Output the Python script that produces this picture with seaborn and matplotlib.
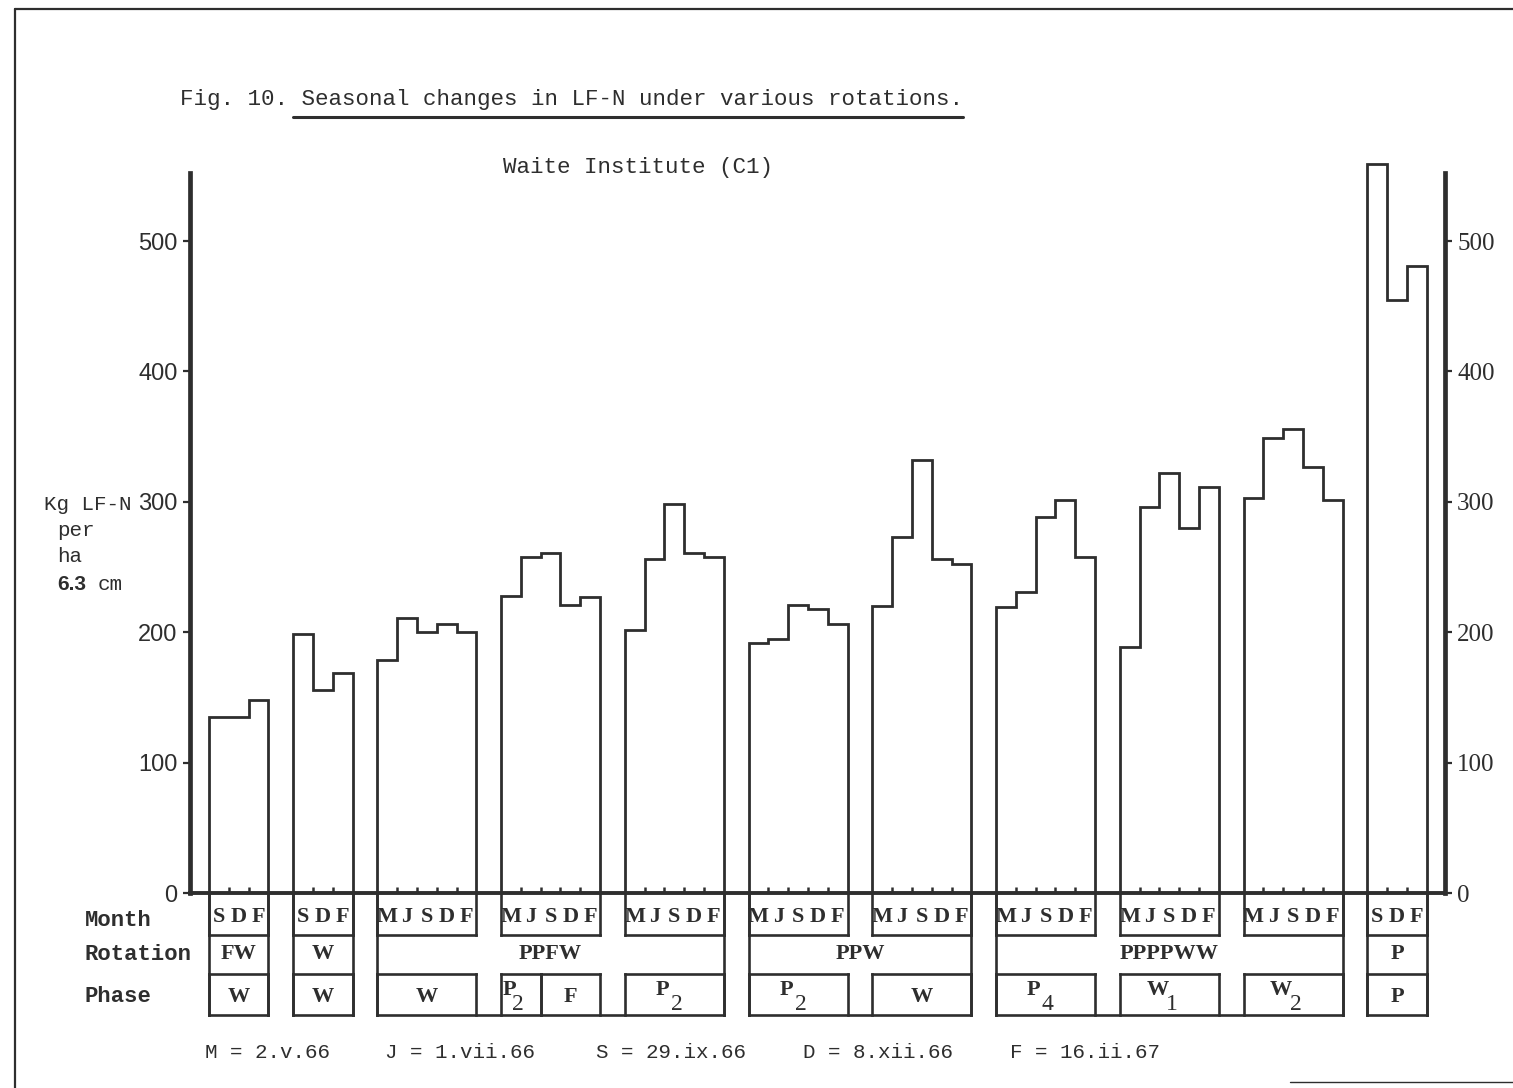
import numpy as np
import pandas as pd
import matplotlib
matplotlib.use("Agg")
import matplotlib.pyplot as plt
from matplotlib.lines import Line2D
import seaborn as sns

# ---------------------------------------------------------------------------
# Data: kg LF-N per ha (0-6.3 cm) at each sampling date, one list per plot
# ---------------------------------------------------------------------------
months_3 = ["S", "D", "F"]
months_5 = ["M", "J", "S", "D", "F"]

fw_w = [135, 135, 148]
w_w = [199, 156, 169]
ppfw_w = [179, 211, 200, 206, 200]
ppfw_p2f = [228, 258, 261, 221, 227]
ppfw_p2 = [202, 256, 298, 261, 258]
ppw_p2 = [192, 195, 221, 218, 206]
ppw_w = [220, 273, 332, 256, 252]
ppppww_p4 = [219, 231, 288, 301, 258]
ppppww_w1 = [189, 296, 322, 280, 311]
ppppww_w2 = [303, 349, 356, 327, 301]
p_p = [559, 455, 481]

plot_values = [fw_w, w_w, ppfw_w, ppfw_p2f, ppfw_p2, ppw_p2, ppw_w,
               ppppww_p4, ppppww_w1, ppppww_w2, p_p]
plot_months = [months_3, months_3, months_5, months_5, months_5, months_5,
               months_5, months_5, months_5, months_5, months_3]

# rotation name -> indices of the plots belonging to it
rotation_names = ["FW", "W", "PPFW", "PPW", "PPPPWW", "P"]
rotation_plots = [[0], [1], [2, 3, 4], [5, 6], [7, 8, 9], [10]]

# phase labels per plot: (letter, subscript, first month, last month + 1)
plot_phases = [
    [("W", "", 0, 3)],
    [("W", "", 0, 3)],
    [("W", "", 0, 5)],
    [("P", "2", 0, 2), ("F", "", 2, 5)],
    [("P", "2", 0, 5)],
    [("P", "2", 0, 5)],
    [("W", "", 0, 5)],
    [("P", "4", 0, 5)],
    [("W", "1", 0, 5)],
    [("W", "2", 0, 5)],
    [("P", "", 0, 3)],
]

date_keys = ["M = 2.v.66", "J = 1.vii.66", "S = 29.ix.66",
             "D = 8.xii.66", "F = 16.ii.67"]

y_ticks = [0, 100, 200, 300, 400, 500]

# ---------------------------------------------------------------------------
# Style
# ---------------------------------------------------------------------------
sns.set_theme(style="white")
INK = "#2e2e2e"
MONO = "Liberation Mono"
SERIF = "Liberation Serif"
SANS = "Liberation Sans"
plt.rcParams["font.family"] = [MONO, "DejaVu Sans"]
plt.rcParams["text.color"] = INK

FIG_W, FIG_H = 1513, 1088
fig = plt.figure(figsize=(FIG_W / 100, FIG_H / 100), dpi=100)
fig.patch.set_facecolor("white")


def fx(px):
    return px / FIG_W


def fy(py):
    return 1 - py / FIG_H


# plot area: x measured in month-slots, y in kg/ha
SLOT_PX = 19.8
KG_PX = 1.304
ZERO_PX = 893
X_MAX = 63.36
Y_MAX = 570
ax = fig.add_axes([fx(190), fy(ZERO_PX), X_MAX * SLOT_PX / FIG_W,
                   Y_MAX * KG_PX / FIG_H])
ax.set_xlim(0, X_MAX)
ax.set_ylim(0, Y_MAX)
ax.set_facecolor("none")


def ky(py):
    """vertical pixel position -> kg units (negative below the zero line)"""
    return (ZERO_PX - py) / KG_PX


# horizontal layout of the plots
GAP = 1.25
starts = []
cursor = 0.96
for vals in plot_values:
    starts.append(cursor)
    cursor += len(vals) + GAP

# stepped outline of every plot
rows = []
for gi, (x0, vals) in enumerate(zip(starts, plot_values)):
    rows.append((gi, x0, 0.0))
    for k, v in enumerate(vals):
        rows.append((gi, x0 + k, v))
        rows.append((gi, x0 + k + 1, v))
    rows.append((gi, x0 + len(vals), 0.0))
outline = pd.DataFrame(rows, columns=["plot", "slot", "kg"])
sns.lineplot(data=outline, x="slot", y="kg", units="plot", estimator=None,
             sort=False, color=INK, linewidth=2.0, ax=ax, legend=False)
for ln in ax.lines:
    ln.set_clip_on(False)
    ln.set_solid_joinstyle("miter")

# small date ticks on the zero line
for x0, vals in zip(starts, plot_values):
    xs = [x0 + k for k in range(1, len(vals))]
    ax.vlines(xs, 0, 4.5, color=INK, linewidth=1.8)

ax.set_xlabel("")
ax.set_ylabel("")
ax.set_xticks([])

# axes
ax.spines["top"].set_visible(False)
for side in ["left", "right"]:
    ax.spines[side].set_visible(True)
    ax.spines[side].set_color(INK)
    ax.spines[side].set_linewidth(3.4)
    ax.spines[side].set_bounds(0, 552)
ax.spines["bottom"].set_color(INK)
ax.spines["bottom"].set_linewidth(2.8)

ax.set_yticks(y_ticks)
ax.set_yticklabels([str(t) for t in y_ticks])
ax.tick_params(axis="y", which="major", direction="out", length=5, width=1.6,
               color=INK, left=True, right=True, labelleft=True,
               labelright=True, pad=4)
for t in ax.yaxis.get_major_ticks():
    t.label1.set_fontfamily(SANS)
    t.label1.set_fontsize(17)
    t.label1.set_color(INK)
    t.label2.set_fontfamily(SERIF)
    t.label2.set_fontsize(18)
    t.label2.set_color(INK)

# ---------------------------------------------------------------------------
# Table under the plots: Month / Rotation / Phase
# ---------------------------------------------------------------------------
Y_MONTH_BOT = ky(935)
Y_ROT_BOT = ky(974)
Y_BOT = ky(1015)
Y_MONTH_TXT = ky(917)
Y_ROT_TXT = ky(954)
Y_PH_TXT = ky(990)
Y_SUB_TXT = ky(1004)
TLW = 1.9


def seg(xa, ya, xb, yb):
    ax.add_line(Line2D([xa, xb], [ya, yb], color=INK, linewidth=TLW,
                       clip_on=False, solid_capstyle="projecting"))


cell_kw = dict(family=SERIF, fontweight="bold", fontsize=16, color=INK,
               ha="center", va="center", clip_on=False)

for name, members in zip(rotation_names, rotation_plots):
    left = starts[members[0]]
    right = starts[members[-1]] + len(plot_values[members[-1]])
    # outer frame sides and bottom
    seg(left, 0, left, Y_BOT)
    seg(right, 0, right, Y_BOT)
    seg(left, Y_BOT, right, Y_BOT)
    for gi in members:
        x0 = starts[gi]
        x1 = x0 + len(plot_values[gi])
        # month box
        seg(x0, 0, x0, Y_MONTH_BOT)
        seg(x1, 0, x1, Y_MONTH_BOT)
        seg(x0, Y_MONTH_BOT, x1, Y_MONTH_BOT)
        for k, m in enumerate(plot_months[gi]):
            ax.text(x0 + k + 0.5, Y_MONTH_TXT, m, **cell_kw)
        # phase boxes
        for letter, sub, a, b in plot_phases[gi]:
            pa, pb = x0 + a, x0 + b
            seg(pa, Y_ROT_BOT, pb, Y_ROT_BOT)
            seg(pa, Y_ROT_BOT, pa, Y_BOT)
            seg(pb, Y_ROT_BOT, pb, Y_BOT)
            cx = (pa + pb) / 2
            if sub:
                sub_x = cx + (0.12 if (pb - pa) > 2.5 else -0.15)
                ax.text(cx - 0.6, Y_PH_TXT, letter, **cell_kw)
                ax.text(sub_x, Y_SUB_TXT, sub,
                        **{**cell_kw, "fontweight": "normal", "fontsize": 17})
            else:
                ax.text(cx, (Y_PH_TXT + Y_SUB_TXT) / 2, letter, **cell_kw)
    ax.text((left + right) / 2, Y_ROT_TXT, name, **cell_kw)

# row headings
for label, py in [("Month", 920), ("Rotation", 955), ("Phase", 997)]:
    fig.text(fx(85), fy(py), label, family=MONO, fontsize=16,
             fontweight="bold", color=INK, ha="left", va="center")

# y-axis caption
fig.text(fx(44), fy(505), "Kg LF-N", family=MONO, fontsize=15, color=INK,
         va="center")
fig.text(fx(57), fy(531), "per", family=MONO, fontsize=15, color=INK,
         va="center")
fig.text(fx(57), fy(557), "ha", family=MONO, fontsize=15, color=INK,
         va="center")
fig.text(fx(57), fy(585), "6.3", family=SANS, fontsize=15, fontweight="bold",
         color=INK, va="center")
fig.text(fx(98), fy(585), "cm", family=MONO, fontsize=15, color=INK,
         va="center")

# titles
fig.text(fx(180), fy(100), "Fig. 10. Seasonal changes in LF-N under various rotations.",
         family=MONO, fontsize=16.2, color=INK, va="center")
fig.add_artist(Line2D([fx(293), fx(963)], [fy(117), fy(117)], color=INK,
                      linewidth=2.2, transform=fig.transFigure))
fig.text(fx(503), fy(167), "Waite Institute (C1)", family=MONO, fontsize=16.2,
         color=INK, va="center")

# date key
for txt, px in zip(date_keys, [205, 385, 596, 803, 1010]):
    fig.text(fx(px), fy(1052), txt, family=MONO, fontsize=15, color=INK,
             va="center")

# page frame
frame_kw = dict(color=INK, linewidth=1.6, transform=fig.transFigure)
fig.add_artist(Line2D([fx(15), fx(1513)], [fy(9), fy(9)], **frame_kw))
fig.add_artist(Line2D([fx(15), fx(15)], [fy(9), fy(1088)], **frame_kw))
fig.add_artist(Line2D([fx(1290), fx(1513)], [fy(1082), fy(1082)],
                      color=INK, linewidth=1.0, transform=fig.transFigure))

fig.savefig("out.png", dpi=100, facecolor="white")
